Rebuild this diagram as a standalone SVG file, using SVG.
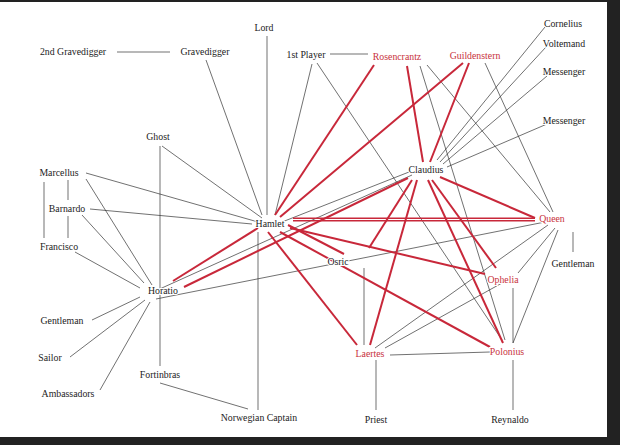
<svg xmlns="http://www.w3.org/2000/svg" width="620" height="445" viewBox="0 0 620 445">
<style>
text{font-family:"Liberation Serif",serif;font-size:9.8px;text-anchor:middle;fill:#222;paint-order:stroke;stroke:#fff;stroke-width:2px}
.r text{fill:#c8323c}
.k line{stroke:#333;stroke-width:0.7}
.m line{stroke:#c8283a;stroke-width:2}
</style>
<rect width="620" height="445" fill="#222"/>
<rect x="0" y="2" width="607" height="435" fill="#fff"/>
<g id="connectors">
<g class="k">
<line x1="117" y1="52" x2="170" y2="52"/>
<line x1="206" y1="60" x2="262" y2="215"/>
<line x1="267" y1="36" x2="267" y2="215"/>
<line x1="312" y1="64" x2="275" y2="215"/>
<line x1="330" y1="54" x2="368" y2="54"/>
<line x1="317" y1="63" x2="502" y2="340"/>
<line x1="420" y1="66" x2="505" y2="340"/>
<line x1="427" y1="65" x2="550" y2="212"/>
<line x1="485" y1="63" x2="553" y2="212"/>
<line x1="437" y1="160" x2="545" y2="27"/>
<line x1="440" y1="162" x2="546" y2="47"/>
<line x1="443" y1="164" x2="547" y2="76"/>
<line x1="447" y1="167" x2="547" y2="124"/>
<line x1="409" y1="172" x2="282" y2="222"/>
<line x1="412" y1="175" x2="153" y2="292"/>
<line x1="545" y1="222" x2="156" y2="299"/>
<line x1="548" y1="225" x2="375" y2="348"/>
<line x1="555" y1="228" x2="518" y2="273"/>
<line x1="558" y1="230" x2="513" y2="343"/>
<line x1="573" y1="232" x2="573" y2="252"/>
<line x1="502" y1="283" x2="385" y2="348"/>
<line x1="513" y1="288" x2="513" y2="343"/>
<line x1="390" y1="355" x2="490" y2="352"/>
<line x1="364" y1="268" x2="364" y2="345"/>
<line x1="376" y1="360" x2="376" y2="410"/>
<line x1="513" y1="360" x2="513" y2="410"/>
<line x1="258" y1="232" x2="258" y2="410"/>
<line x1="160" y1="383" x2="248" y2="409"/>
<line x1="160" y1="146" x2="160" y2="366"/>
<line x1="162" y1="146" x2="262" y2="218"/>
<line x1="86" y1="173" x2="258" y2="222"/>
<line x1="86" y1="179" x2="152" y2="285"/>
<line x1="68" y1="180" x2="68" y2="200"/>
<line x1="44" y1="182" x2="44" y2="238"/>
<line x1="90" y1="209" x2="252" y2="224"/>
<line x1="82" y1="215" x2="144" y2="283"/>
<line x1="68" y1="216" x2="68" y2="238"/>
<line x1="75" y1="252" x2="140" y2="288"/>
<line x1="140" y1="297" x2="92" y2="320"/>
<line x1="145" y1="300" x2="70" y2="357"/>
<line x1="150" y1="302" x2="100" y2="390"/>
</g>
<g class="m">
<line x1="275" y1="215" x2="374" y2="65"/>
<line x1="280" y1="217" x2="463" y2="63"/>
<line x1="293" y1="218.3" x2="535" y2="218.3" style="stroke-width:1.4"/>
<line x1="293" y1="220.7" x2="535" y2="220.7" style="stroke-width:1.4"/>
<line x1="258" y1="228" x2="173" y2="281"/>
<line x1="288" y1="225" x2="344" y2="254"/>
<line x1="290" y1="228" x2="485" y2="274"/>
<line x1="268" y1="232" x2="357" y2="345"/>
<line x1="280" y1="232" x2="490" y2="347"/>
<line x1="423" y1="162" x2="407" y2="66"/>
<line x1="430" y1="162" x2="469" y2="63"/>
<line x1="408" y1="178" x2="184" y2="287"/>
<line x1="412" y1="180" x2="369" y2="248"/>
<line x1="417" y1="180" x2="370" y2="345"/>
<line x1="440" y1="177" x2="535" y2="218"/>
<line x1="432" y1="180" x2="496" y2="268"/>
<line x1="428" y1="180" x2="503" y2="343"/>
</g>
</g>
<g id="n-lord"><text x="264" y="31">Lord</text></g>
<g id="n-2gd"><text x="73" y="55">2nd Gravedigger</text></g>
<g id="n-gd"><text x="205" y="55">Gravedigger</text></g>
<g id="n-1p"><text x="306" y="58">1st Player</text></g>
<g id="n-ros" class="r"><text x="397" y="60">Rosencrantz</text></g>
<g id="n-gui" class="r"><text x="475" y="59">Guildenstern</text></g>
<g id="n-cor"><text x="563" y="27">Cornelius</text></g>
<g id="n-vol"><text x="564" y="47">Voltemand</text></g>
<g id="n-mes1"><text x="564" y="75">Messenger</text></g>
<g id="n-mes2"><text x="564" y="124">Messenger</text></g>
<g id="n-ghost"><text x="158" y="140">Ghost</text></g>
<g id="n-cla"><text x="426" y="173">Claudius</text></g>
<g id="n-mar"><text x="59" y="176">Marcellus</text></g>
<g id="n-bar"><text x="67" y="212">Barnardo</text></g>
<g id="n-ham"><text x="270" y="227">Hamlet</text></g>
<g id="n-queen" class="r"><text x="552" y="222">Queen</text></g>
<g id="n-fra"><text x="59" y="250">Francisco</text></g>
<g id="n-osr"><text x="338" y="265">Osric</text></g>
<g id="n-gen2"><text x="573" y="267">Gentleman</text></g>
<g id="n-oph" class="r"><text x="503" y="283">Ophelia</text></g>
<g id="n-hor"><text x="163" y="294">Horatio</text></g>
<g id="n-gen1"><text x="62" y="324">Gentleman</text></g>
<g id="n-lae" class="r"><text x="370" y="357">Laertes</text></g>
<g id="n-pol" class="r"><text x="507" y="355">Polonius</text></g>
<g id="n-sai"><text x="50" y="361">Sailor</text></g>
<g id="n-for"><text x="160" y="378">Fortinbras</text></g>
<g id="n-amb"><text x="68" y="397">Ambassadors</text></g>
<g id="n-nc"><text x="259" y="421">Norwegian Captain</text></g>
<g id="n-pri"><text x="376" y="423">Priest</text></g>
<g id="n-rey"><text x="510" y="423">Reynaldo</text></g>
</svg>
